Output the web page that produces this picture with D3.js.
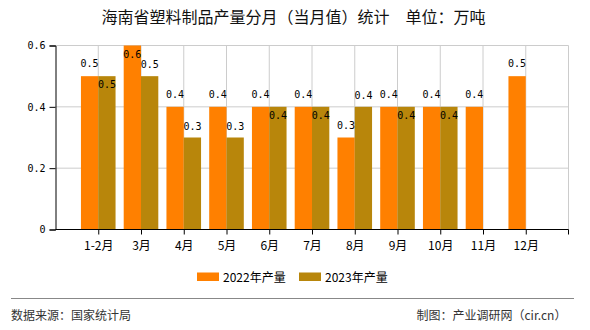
<!DOCTYPE html>
<html><head><meta charset="utf-8">
<script src="https://cdn.jsdelivr.net/npm/d3@7/dist/d3.min.js"></script>
<style>
html,body{margin:0;padding:0;background:#fff;}
svg{display:block;}
</style></head>
<body>
<div id="chart"></div>
<script>
const categories = ["1-2月","3月","4月","5月","6月","7月","8月","9月","10月","11月","12月"];
const series2022 = [0.5,0.6,0.4,0.4,0.4,0.4,0.3,0.4,0.4,0.4,0.5];
const series2023 = [0.5,0.5,0.3,0.3,0.4,0.4,0.4,0.4,0.4,null,null];
const seriesNames = ["2022年产量","2023年产量"];
const yTicks = [0,0.2,0.4,0.6];
const colors = ["#FF8000","#B8860B"];

(function(){
const W=590,H=330;
const pL=55.5,pR=568.5,pT=45.5,pB=229.5;
const step=(pR-pL)/12;
const svg=d3.select("#chart").append("svg").attr("width",W).attr("height",H);
const cjk='"Noto Sans CJK SC","Noto Sans",sans-serif';
const mono='"DejaVu Sans Mono","Liberation Mono",monospace';

const x=d3.scalePoint().domain(categories).range([pL+step,pL+11*step]);
const inner=d3.scaleBand().domain(seriesNames).range([-17.3,17.3]);
const y=d3.scaleLinear().domain([0,0.6]).range([pB,pT]);

// title
svg.append("text").attr("x",101.5).attr("y",22.5).attr("text-anchor","start")
  .style("font-family",cjk).style("font-size","16px").attr("fill","#111")
  .text("海南省塑料制品产量分月（当月值）统计　单位：万吨");

// gridlines
const g=svg.append("g");
g.selectAll("line.h").data(yTicks.filter(d=>d>0)).enter().append("line")
  .attr("x1",pL).attr("x2",pR).attr("y1",d=>y(d)).attr("y2",d=>y(d))
  .attr("stroke","#cccccc").attr("stroke-width",1);
g.selectAll("line.v").data(categories).enter().append("line")
  .attr("x1",d=>x(d)).attr("x2",d=>x(d)).attr("y1",pT).attr("y2",pB)
  .attr("stroke","#cccccc").attr("stroke-width",1);
g.append("line").attr("x1",pR).attr("x2",pR).attr("y1",pT).attr("y2",pB)
  .attr("stroke","#cccccc");

// bars
const data=categories.map((c,i)=>({c,vals:[series2022[i],series2023[i]]}));
const groups=svg.append("g").selectAll("g").data(data).enter().append("g")
  .attr("transform",d=>`translate(${x(d.c)},0)`);
groups.selectAll("rect").data(d=>d.vals.map((v,j)=>({v,j,name:seriesNames[j]})).filter(e=>e.v!=null))
  .enter().append("rect")
  .attr("x",e=>inner(e.name)).attr("width",inner.bandwidth())
  .attr("y",e=>y(e.v)).attr("height",e=>pB-y(e.v))
  .attr("fill",e=>colors[e.j]);

// labels
groups.each(function(d){
  const gg=d3.select(this);
  const [a,b]=d.vals;
  if(a!=null){
    gg.append("text").attr("x",inner(seriesNames[0])+inner.bandwidth()/2)
      .attr("y",Math.max(y(a)-9,pT+12)).attr("text-anchor","middle")
      .style("font-family",mono).style("font-size","10px").attr("fill","#000").text(a.toFixed(1));
  }
  if(b!=null){
    const yy = (a===b) ? y(b)+12 : y(b)-8;
    gg.append("text").attr("x",inner(seriesNames[1])+inner.bandwidth()/2)
      .attr("y",yy).attr("text-anchor","middle")
      .style("font-family",mono).style("font-size","10px").attr("fill","#000").text(b.toFixed(1));
  }
});

// y axis
const ya=svg.append("g").attr("transform",`translate(${pL},0)`)
  .call(d3.axisLeft(y).tickValues(yTicks).tickSize(6).tickPadding(4).tickFormat(d=>d===0?"0":d3.format(".1f")(d)));
ya.select(".domain").attr("stroke","#000");
ya.selectAll(".tick line").attr("stroke","#000");
ya.selectAll("text").style("font-family",mono).style("font-size","10px").attr("fill","#000");

// x axis
const xa=svg.append("g").attr("transform",`translate(0,${pB})`)
  .call(d3.axisBottom(x).tickSize(5).tickPadding(7));
xa.select(".domain").remove();
xa.selectAll(".tick line").attr("stroke","#000");
xa.selectAll("text").style("font-family",cjk).style("font-size","12px").attr("fill","#000");
xa.append("line").attr("x1",pL).attr("x2",pR).attr("y1",0).attr("y2",0).attr("stroke","#000");
xa.append("line").attr("x1",pR).attr("x2",pR).attr("y1",0).attr("y2",5).attr("stroke","#000");

// legend
const lg=svg.append("g");
const lx=[197,299];
seriesNames.forEach((n,i)=>{
  lg.append("rect").attr("x",lx[i]).attr("y",272.5).attr("width",22).attr("height",8.5).attr("fill",colors[i]);
  lg.append("text").attr("x",lx[i]+26).attr("y",281.5).style("font-family",cjk).style("font-size","12px")
    .attr("fill","#000").text(n);
});

// footer
svg.append("line").attr("x1",11).attr("x2",574).attr("y1",298.5).attr("y2",298.5).attr("stroke","#888");
svg.append("text").attr("x",11).attr("y",319.5).style("font-family",cjk).style("font-size","12px")
  .attr("fill","#333").text("数据来源：国家统计局");
svg.append("text").attr("x",416.5).attr("y",319.5).attr("text-anchor","start").style("font-family",cjk).style("font-size","12px")
  .attr("fill","#333").text("制图：产业调研网（cir.cn）");
})();
</script>
</body></html>
